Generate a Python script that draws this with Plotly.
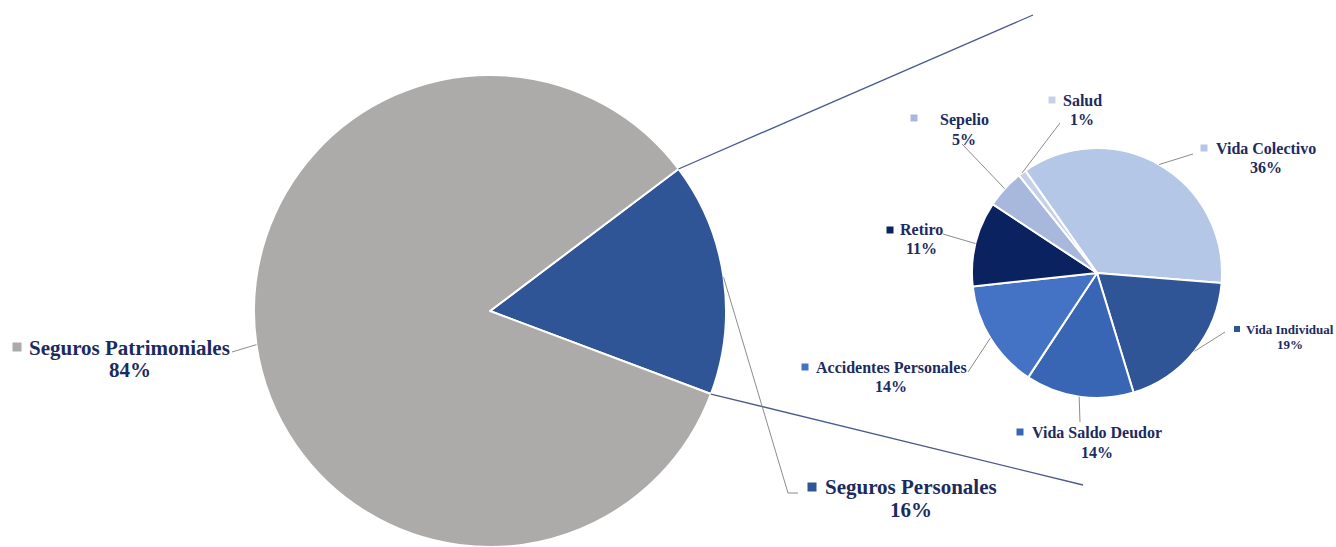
import math
import plotly.graph_objects as go

# ---- data -------------------------------------------------------------
main_labels = ["Seguros Personales", "Seguros Patrimoniales"]
main_values = [16, 84]
main_colors = ["#2F5597", "#ADAAAA"]

sub_labels = ["Vida Colectivo", "Vida Individual", "Vida Saldo Deudor",
              "Accidentes Personales", "Retiro", "Sepelio", "Salud"]
sub_values = [36, 19, 14, 14, 11, 5, 1]
sub_colors = ["#B4C7E7", "#2F5597", "#3965B5", "#4472C4",
              "#0A2360", "#A8B8DC", "#C6D1E8"]

# ---- layout constants (pixels, origin top-left) -----------------------
W, H = 1336, 547
TEXT_COLOR = "#1C2B5F"
FONT = "Liberation Serif"

MAIN_CX, MAIN_TOP = 490, 75          # main pie: centre x, top edge
MAIN_ROT = 53                        # start angle of first slice (deg, clockwise from 12)
SUB_CX, SUB_CY, SUB_R = 1097, 273, 125
SUB_ROT = -35

main_r = (H - MAIN_TOP) / 2
main_cy = H - main_r


def px(x):
    return x / W


def py(y):
    return 1 - y / H


def slice_angles(values, rotation):
    """Start, end and middle angles (deg, clockwise from 12 o'clock)."""
    total = sum(values)
    out = []
    a = rotation
    for v in values:
        span = 360 * v / total
        out.append((a, a + span, a + span / 2))
        a += span
    return out


def edge_point(cx, cy, r, ang):
    t = math.radians(ang)
    return cx + r * math.sin(t), cy - r * math.cos(t)


fig = go.Figure()

fig.add_trace(go.Pie(
    labels=main_labels, values=main_values, sort=False,
    direction="clockwise", rotation=MAIN_ROT,
    marker=dict(colors=main_colors, line=dict(color="white", width=2)),
    textinfo="none", hoverinfo="label+percent",
    domain=dict(x=[px(MAIN_CX - main_r), px(MAIN_CX + main_r)], y=[0, py(MAIN_TOP)]),
    showlegend=False,
))

fig.add_trace(go.Pie(
    labels=sub_labels, values=sub_values, sort=False,
    direction="clockwise", rotation=SUB_ROT,
    marker=dict(colors=sub_colors, line=dict(color="white", width=2)),
    textinfo="none", hoverinfo="label+percent",
    domain=dict(x=[px(SUB_CX - SUB_R), px(SUB_CX + SUB_R)],
                y=[py(SUB_CY + SUB_R), py(SUB_CY - SUB_R)]),
    showlegend=False,
))

shapes = []
annotations = []

# connector lines from the "Seguros Personales" slice to the breakdown pie
main_ang = slice_angles(main_values, MAIN_ROT)
p0 = edge_point(MAIN_CX, main_cy, main_r, main_ang[0][0])
p1 = edge_point(MAIN_CX, main_cy, main_r, main_ang[0][1])
for (sx, sy), (ex, ey) in [(p0, (1033, 15)), (p1, (1083, 485))]:
    shapes.append(dict(type="line", xref="paper", yref="paper",
                       x0=px(sx), y0=py(sy), x1=px(ex), y1=py(ey),
                       line=dict(color="#4B5B8E", width=1.3)))

# label placement: name centre (x, y), percent y, key square centre, font size,
# square size, leader waypoints after the slice edge
main_label_pos = {
    "Seguros Personales": dict(x=911, y=487, py_=510, sq=(812, 487), fs=21, ss=9,
                               lead=[(788, 493), (798, 493)]),
    "Seguros Patrimoniales": dict(x=129.5, y=348, py_=370, sq=(17, 347), fs=21, ss=9,
                                  lead=[(232, 352)]),
}
sub_label_pos = {
    "Vida Colectivo": dict(x=1266, y=148, py_=167, sq=(1204, 148), fs=16, ss=7,
                           lead=[(1193, 154)]),
    "Vida Individual": dict(x=1290, y=329, py_=344, sq=(1237, 329), fs=13, ss=6,
                            lead=[(1225, 332)]),
    "Vida Saldo Deudor": dict(x=1097, y=432, py_=452, sq=(1020, 432), fs=16, ss=7,
                              lead=[(1080, 422)]),
    "Accidentes Personales": dict(x=891, y=367, py_=386, sq=(805, 367), fs=16, ss=7,
                                  lead=[(968, 372)]),
    "Retiro": dict(x=921, y=230, py_=249, sq=(890, 230), fs=16, ss=7,
                   lead=[(943, 234)]),
    "Sepelio": dict(x=964, y=120, py_=139, sq=(914, 118), fs=16, ss=7,
                    lead=[(962, 144)]),
    "Salud": dict(x=1082, y=101, py_=120, sq=(1052, 100), fs=16, ss=7,
                  lead=[(1060, 123)]),
}


def add_labels(labels, values, colors, angles, cx, cy, r, pos_map):
    total = sum(values)
    for lab, val, col, (_, _, mid) in zip(labels, values, colors, angles):
        p = pos_map[lab]
        ex, ey = edge_point(cx, cy, r, mid)
        pts = [(ex, ey)] + p["lead"]
        path = "M " + " L ".join(f"{px(x):.5f},{py(y):.5f}" for x, y in pts)
        shapes.append(dict(type="path", xref="paper", yref="paper", path=path,
                           line=dict(color="#8C8C8C", width=1)))
        sx, sy = p["sq"]
        h = p["ss"] / 2
        shapes.append(dict(type="rect", xref="paper", yref="paper",
                           x0=px(sx - h), x1=px(sx + h), y0=py(sy + h), y1=py(sy - h),
                           fillcolor=col, line=dict(width=0)))
        font = dict(family=FONT, size=p["fs"], color=TEXT_COLOR, weight="bold")
        annotations.append(dict(text=lab, x=px(p["x"]), y=py(p["y"]),
                                xref="paper", yref="paper", xanchor="center",
                                yanchor="middle", showarrow=False, font=font))
        annotations.append(dict(text=f"{round(100 * val / total)}%",
                                x=px(p["x"]), y=py(p["py_"]),
                                xref="paper", yref="paper", xanchor="center",
                                yanchor="middle", showarrow=False, font=font))


add_labels(main_labels, main_values, main_colors, main_ang,
           MAIN_CX, main_cy, main_r, main_label_pos)
add_labels(sub_labels, sub_values, sub_colors, slice_angles(sub_values, SUB_ROT),
           SUB_CX, SUB_CY, SUB_R, sub_label_pos)

fig.update_layout(
    width=W, height=H,
    margin=dict(l=0, r=0, t=0, b=0),
    paper_bgcolor="white", plot_bgcolor="white",
    shapes=shapes, annotations=annotations,
)

fig.write_html("out.html")
